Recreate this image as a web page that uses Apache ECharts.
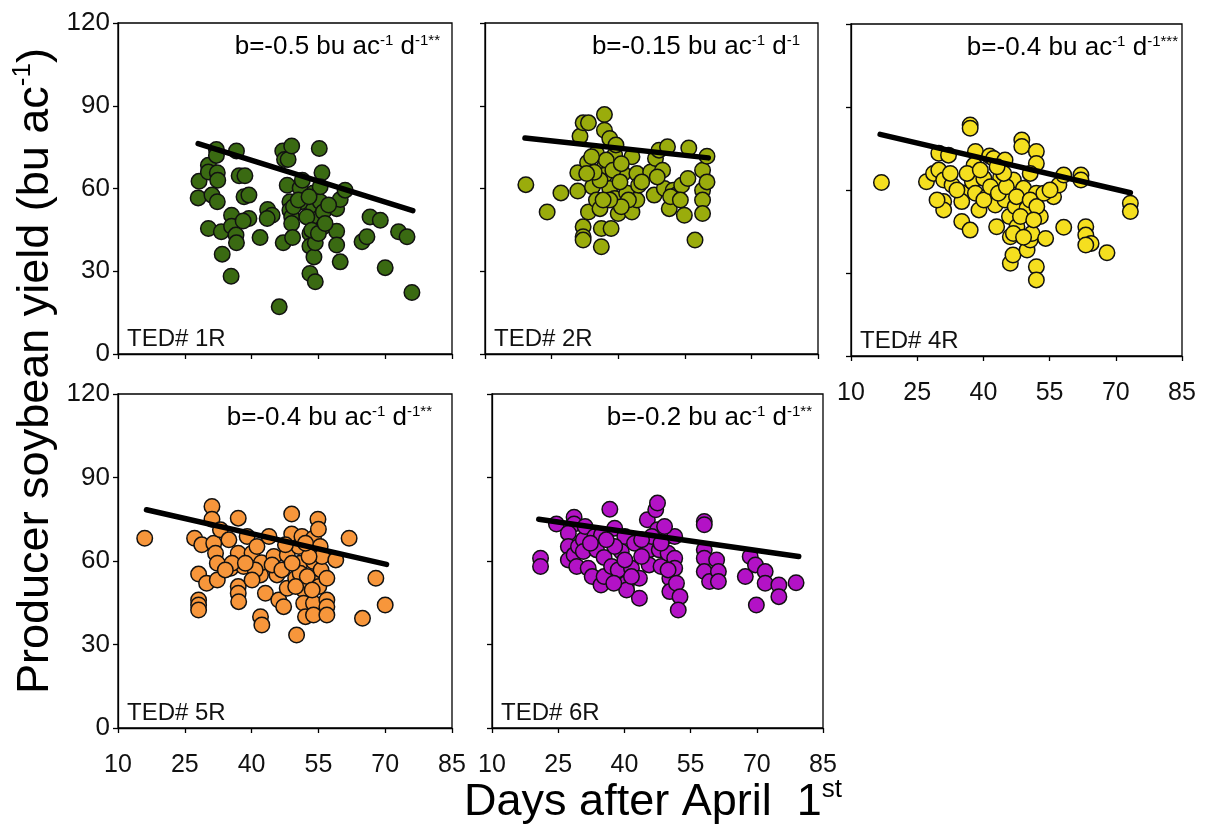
<!DOCTYPE html>
<html>
<head>
<meta charset="utf-8">
<script src="https://cdn.jsdelivr.net/npm/echarts@6/dist/echarts.min.js"></script>
<style>
html,body{margin:0;padding:0;background:#fff;}
#chart{width:1209px;height:831px;}
</style>
</head>
<body>
<div id="chart"></div>
<script>
// ---------- data ----------
const panelNames = ['TED# 1R','TED# 2R','TED# 4R','TED# 5R','TED# 6R'];
const slopeTexts = ['-0.5','-0.15','-0.4','-0.4','-0.2'];
const starTexts = ['**','','***','**','**'];
const xTicks = [10,25,40,55,70,85];
const yTicks = [0,30,60,90,120];

const p1 = [[28.2,62.6],[28.0,56.6],[30.3,68.4],[30.3,66.0],[32.1,74.1],[32.1,72.0],[32.3,65.7],[32.4,63.0],[31.1,57.6],[32.3,55.2],[30.3,45.5],[33.2,44.3],[33.4,36.2],[35.4,28.2],[35.5,50.3],[35.5,46.3],[36.5,43.1],[36.6,40.3],[36.6,73.6],[37.2,64.6],[38.5,64.6],[38.3,57.0],[39.4,57.6],[39.4,49.1],[38.1,48.2],[41.9,42.2],[43.6,52.4],[44.6,50.3],[43.5,49.1],[47.0,73.6],[47.4,70.5],[48.2,70.5],[49.0,75.4],[48.0,61.2],[48.6,55.2],[48.6,52.1],[49.0,49.7],[49.0,47.3],[47.1,40.3],[49.2,42.2],[50.9,60.2],[51.1,55.2],[53.1,43.7],[53.1,39.1],[53.1,29.2],[54.3,26.2],[54.0,35.2],[54.3,40.3],[53.9,58.4],[53.9,52.4],[55.0,49.1],[55.2,74.5],[55.4,55.2],[55.8,65.7],[56.1,46.1],[56.1,51.5],[46.2,17.1],[59.1,52.7],[59.1,44.5],[59.1,39.5],[59.9,33.4],[59.9,56.0],[61.0,59.4],[64.8,40.7],[65.9,42.5],[66.6,49.7],[68.9,48.5],[70.0,31.3],[73.0,44.3],[74.9,42.5],[76.0,22.3],[49.4,53.4],[52.4,49.7],[53.5,44.9],[55.4,60.6],[50.5,55.8],[57.3,54.0],[52.9,57.0],[51.4,63.0],[55.0,43.7],[56.5,47.3]];
const p2 = [[19.2,61.4],[24.0,51.5],[27.1,58.4],[30.9,65.7],[30.9,59.1],[31.4,78.9],[32.1,83.8],[33.3,83.8],[32.1,46.1],[32.1,42.5],[32.1,41.3],[33.3,51.5],[33.1,69.4],[34.2,60.6],[35.1,72.7],[35.1,55.8],[36.2,45.5],[36.2,38.9],[36.9,86.8],[36.9,81.1],[38.1,78.1],[36.9,67.8],[36.9,64.8],[38.1,60.0],[38.4,45.5],[39.2,56.4],[39.2,72.1],[40.0,50.9],[41.1,65.4],[41.9,58.4],[43.1,71.5],[43.1,51.5],[44.2,65.4],[44.2,55.8],[44.6,61.2],[47.3,66.0],[48.1,57.6],[48.4,70.9],[49.2,73.9],[50.0,66.6],[51.1,75.1],[50.4,60.0],[51.5,52.7],[52.4,59.4],[53.1,57.6],[54.3,61.2],[54.9,50.3],[55.7,63.6],[55.9,74.7],[57.3,41.3],[59.0,66.6],[59.0,59.4],[59.0,55.8],[59.0,50.9],[60.0,62.4],[60.0,71.7],[35.9,63.0],[37.3,70.3],[38.8,66.6],[40.4,62.4],[40.7,69.0],[42.3,55.8],[35.9,52.7],[34.6,65.9],[39.5,75.8],[40.7,53.4],[45.3,62.4],[48.8,64.2],[51.8,57.0],[54.0,55.8],[38.1,55.8],[36.6,55.8],[32.9,65.4],[34.0,71.5]];
const p3 = [[16.9,62.7],[27.1,63.0],[28.7,66.0],[29.9,73.3],[29.9,67.2],[31.0,63.6],[32.1,72.6],[31.0,55.8],[31.0,52.8],[29.5,56.4],[32.9,61.8],[35.1,59.0],[35.1,55.8],[35.1,48.6],[37.0,45.5],[37.0,83.5],[37.0,82.3],[38.2,73.9],[37.9,69.0],[37.5,63.0],[38.2,58.8],[39.0,52.8],[40.1,64.2],[40.8,57.6],[41.4,72.3],[42.3,71.4],[42.7,54.6],[43.0,46.7],[43.9,64.5],[44.9,70.8],[44.9,56.4],[45.9,50.4],[46.1,43.1],[46.1,33.5],[46.7,36.5],[46.8,63.6],[47.2,54.0],[47.6,46.7],[48.7,78.1],[48.7,75.7],[49.1,60.6],[49.9,53.4],[49.9,38.3],[50.6,41.9],[51.0,44.3],[52.0,73.9],[52.0,69.6],[52.0,58.8],[52.0,32.3],[52.0,27.5],[52.9,50.4],[54.1,42.5],[55.9,57.6],[57.1,61.8],[58.2,65.4],[58.2,46.5],[62.1,65.4],[62.1,63.6],[63.2,46.7],[63.2,43.7],[64.4,40.7],[63.2,40.1],[68.0,37.3],[73.3,55.2],[73.3,52.2],[40.1,56.4],[41.6,61.2],[43.4,58.8],[45.2,61.2],[47.5,57.6],[50.6,56.4],[52.1,54.0],[53.7,58.8],[55.1,60.0],[48.4,50.4],[46.8,44.3],[49.1,42.9],[51.4,49.2],[44.6,66.0],[43.1,68.4],[32.5,66.0],[34.0,60.0],[36.3,66.0],[39.3,67.2],[50.6,66.0]];
const p4 = [[16.0,68.2],[27.2,68.2],[28.1,55.3],[28.1,46.0],[28.1,44.2],[28.1,42.4],[28.8,65.8],[29.9,52.0],[31.1,79.6],[31.1,75.0],[31.5,66.4],[31.9,62.8],[32.3,59.2],[32.3,53.2],[33.0,71.2],[34.9,67.6],[35.3,57.4],[37.0,75.4],[37.0,62.8],[37.0,50.8],[37.0,48.4],[37.1,45.4],[38.2,58.0],[39.0,68.8],[40.1,62.8],[41.2,65.2],[42.0,55.0],[42.0,40.0],[42.3,37.0],[42.2,59.4],[43.1,48.4],[43.9,68.8],[45.0,61.6],[45.7,55.0],[46.1,46.0],[47.2,43.6],[48.0,62.2],[48.0,50.2],[49.0,76.9],[49.0,69.7],[49.9,53.8],[50.1,33.4],[50.6,65.2],[50.9,59.2],[50.9,55.6],[51.3,68.8],[51.7,49.6],[51.7,44.8],[52.1,40.0],[53.9,68.2],[53.9,59.8],[53.9,53.2],[53.9,44.8],[53.9,40.6],[54.9,75.0],[55.0,71.4],[55.4,65.2],[55.6,56.8],[55.8,61.6],[56.9,46.0],[56.9,43.6],[56.9,40.6],[58.9,60.4],[61.9,68.2],[64.9,39.4],[67.9,53.8],[70.0,44.2],[44.6,58.6],[46.8,56.8],[49.1,59.2],[47.6,65.8],[52.5,54.4],[52.9,61.6],[49.9,50.8],[55.1,50.8],[56.9,53.8],[40.8,56.8],[35.6,59.2],[38.6,59.2],[40.1,53.2],[53.6,49.6],[52.1,66.4],[34.1,56.8]];
const p5 = [[21.0,61.0],[21.0,58.0],[24.6,73.3],[28.6,75.7],[28.6,73.3],[27.3,70.0],[27.3,65.2],[27.3,60.4],[28.6,62.2],[29.2,58.0],[29.6,65.2],[30.7,67.6],[30.7,63.4],[31.1,72.4],[31.8,57.4],[32.7,54.4],[33.3,68.8],[33.7,64.0],[34.7,51.4],[34.8,69.4],[35.4,61.3],[35.4,54.4],[36.7,78.6],[37.1,58.0],[37.8,71.8],[38.6,56.8],[39.3,63.4],[40.1,68.8],[40.5,52.0],[40.5,49.6],[41.6,57.4],[42.3,66.4],[43.4,53.8],[43.4,46.6],[45.2,74.8],[45.6,64.0],[45.6,58.6],[47.1,78.4],[47.5,80.8],[47.5,71.2],[47.9,64.0],[48.3,58.0],[49.5,68.8],[49.9,62.8],[50.3,53.8],[50.3,49.0],[51.4,68.8],[51.4,61.0],[51.4,57.4],[51.8,52.0],[52.6,47.2],[52.2,42.4],[58.1,74.2],[58.1,73.0],[58.1,64.0],[58.1,61.0],[58.1,56.2],[59.3,52.6],[60.9,60.4],[61.3,56.2],[61.3,52.6],[67.4,54.4],[68.5,61.6],[69.7,58.6],[69.9,44.2],[71.9,56.2],[71.9,52.0],[75.0,51.4],[75.0,47.2],[78.9,52.2],[37.8,65.2],[40.1,60.4],[43.9,61.6],[46.2,68.8],[48.3,66.4],[49.9,56.8],[49.1,72.4],[32.3,66.4],[35.9,67.6],[41.6,54.4],[37.6,52.0],[43.9,67.6]];

// regression line end points [x, y]
const fit1 = [[28.0,76.3],[76.2,52.0]];
const fit2 = [[19.0,78.3],[60.3,71.1]];
const fit3 = [[16.6,80.1],[73.3,59.0]];
const fit4 = [[16.4,78.4],[70.3,58.8]];
const fit5 = [[20.6,75.0],[79.5,61.6]];

const points = [p1,p2,p3,p4,p5];
const fits = [fit1,fit2,fit3,fit4,fit5];

// ---------- styling / layout ----------
const colors = ['#3a6a12','#9aac0c','#f5df1f','#f7963b','#b312c6'];
const grids = [
  {left:118, top:23, width:334, height:331},
  {left:485, top:23, width:333, height:331},
  {left:851, top:24, width:331, height:332},
  {left:118, top:394, width:334, height:334},
  {left:492, top:394, width:331, height:334}
];
const showXLabel = [false,false,true,true,true];
const showYLabel = [true,false,false,true,false];
const annotRight = [440, 800, 1178, 432, 812];
const FONT = '"Liberation Sans", Arial, sans-serif';
const TXT = '#111';

const option = {
  backgroundColor:'#fff',
  animation:false,
  grid: grids.map(g => Object.assign({show:true, borderColor:'#000', borderWidth:1.3, backgroundColor:'transparent'}, g)),
  xAxis: grids.map((g,i) => ({
    type:'value', gridIndex:i, min:10, max:85, interval:15,
    axisLine:{show:true, onZero:false, lineStyle:{color:'#000', width:1.3}},
    axisTick:{show:true, inside:false, length:5, lineStyle:{color:'#000', width:1.3}},
    splitLine:{show:false},
    axisLabel:{show:showXLabel[i], fontSize:25, color:TXT, fontFamily:FONT, margin:25}
  })),
  yAxis: grids.map((g,i) => ({
    type:'value', gridIndex:i, min:0, max:120, interval:30,
    axisLine:{show:true, onZero:false, lineStyle:{color:'#000', width:1.3}},
    axisTick:{show:true, inside:false, length:5, lineStyle:{color:'#000', width:1.3}},
    splitLine:{show:false},
    axisLabel:{show:showYLabel[i], fontSize:26, color:TXT, fontFamily:FONT, margin:8}
  })),
  series: [],
  graphic: []
};

points.forEach((pts,i) => {
  option.series.push({
    type:'scatter', xAxisIndex:i, yAxisIndex:i, data:pts,
    symbol:'circle', symbolSize:15.5, z:2,
    itemStyle:{color:colors[i], borderColor:'#111', borderWidth:1.5, opacity:1}
  });
  option.series.push({
    type:'line', xAxisIndex:i, yAxisIndex:i, data:fits[i],
    symbol:'none', z:5,
    lineStyle:{color:'#000', width:5.5, cap:'round'}
  });
});

const rich = {
  m:{fontSize:26, fontFamily:FONT, color:TXT, lineHeight:30, verticalAlign:'bottom'},
  s:{fontSize:15, fontFamily:FONT, color:TXT, lineHeight:15, verticalAlign:'top', padding:[3,0,0,0]}
};

grids.forEach((g,i) => {
  const stars = starTexts[i];
  option.graphic.push({
    type:'text', z:10,
    x: annotRight[i], y: g.top + 22,
    style:{
      text:'{m|b=' + slopeTexts[i] + ' bu ac}{s|-1}{m| d}{s|-1' + stars + '}',
      rich:rich, align:'right', verticalAlign:'middle',
      textAlign:'right', textVerticalAlign:'middle'
    }
  });
  option.graphic.push({
    type:'text', z:10,
    x: g.left + 9, y: g.top + g.height - 15,
    style:{text:panelNames[i], fontSize:24, fontFamily:FONT, fill:TXT,
      align:'left', verticalAlign:'middle', textAlign:'left', textVerticalAlign:'middle'}
  });
});

// axis titles
const bigRich = {
  m:{fontSize:45, fontFamily:FONT, color:TXT, lineHeight:50, verticalAlign:'bottom'},
  s:{fontSize:26, fontFamily:FONT, color:TXT, lineHeight:26, verticalAlign:'top', padding:[2,0,0,0]}
};
option.graphic.push({
  type:'text', z:10, x:33, y:371, rotation:Math.PI/2,
  style:{text:'{m|Producer soybean yield (bu ac}{s|-1}{m|)}', rich:bigRich,
    align:'center', verticalAlign:'middle', textAlign:'center', textVerticalAlign:'middle'}
});
option.graphic.push({
  type:'text', z:10, x:653, y:800,
  style:{text:'{m|Days after April  1}{s|st}', rich:{
      m:{fontSize:45, fontFamily:FONT, color:TXT, lineHeight:50, verticalAlign:'bottom'},
      s:{fontSize:26, fontFamily:FONT, color:TXT, lineHeight:26, verticalAlign:'top', padding:[2,0,0,0]}
    },
    align:'center', verticalAlign:'middle', textAlign:'center', textVerticalAlign:'middle'}
});

const chart = echarts.init(document.getElementById('chart'), null, {renderer:'canvas'});
chart.setOption(option);
</script>
</body>
</html>
